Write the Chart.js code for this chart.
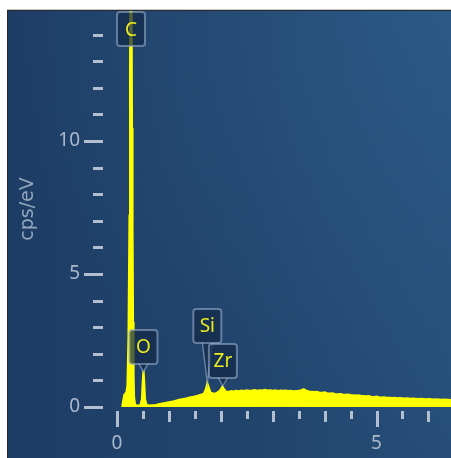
<!DOCTYPE html>
<html>
<head>
<meta charset="utf-8">
<script src="https://cdn.jsdelivr.net/npm/chart.js@4/dist/chart.umd.min.js"></script>
<style>
  html, body { margin: 0; padding: 0; background: #ffffff; width: 451px; height: 458px; overflow: hidden; }
  #wrap {
    position: absolute; left: 7px; top: 10px; width: 443px; height: 447px;
    border-left: 1px solid #2a2a2a; border-top: 1px solid #2a2a2a;
    box-shadow: 0 -1px 0 #c8c8c8;
  }
  #c {
    display: block;
    background:
      radial-gradient(ellipse at 100% 0%, rgba(48,98,145,0.55) 0%, rgba(48,98,145,0) 70%),
      linear-gradient(to right, #1e3d66 0%, #21446d 55%, #264e79 100%);
  }
</style>
</head>
<body>
<div id="wrap"><canvas id="c" width="443" height="447"></canvas></div>
<script>
// ---- data ----
const energies = [
  0.10, 0.12, 0.14, 0.16, 0.18, 0.20, 0.22, 0.24, 0.25, 0.26, 0.27, 0.28, 0.29, 0.30, 0.31, 0.32, 0.33, 0.35,
  0.40, 0.45, 0.48, 0.495, 0.51, 0.525, 0.54, 0.57, 0.62, 0.68,
  0.75, 0.80, 0.85, 0.90, 0.95, 1.00, 1.05, 1.10, 1.15, 1.20, 1.25, 1.30, 1.35, 1.40, 1.45, 1.50, 1.55, 1.60, 1.65,
  1.68, 1.71, 1.74, 1.77, 1.80, 1.84, 1.88, 1.92, 1.96, 2.00, 2.03, 2.06, 2.10, 2.15, 2.20,
  2.25, 2.30, 2.35, 2.40, 2.45, 2.50, 2.55, 2.60, 2.65, 2.70, 2.75, 2.80, 2.85, 2.90, 2.95, 3.00,
  3.05, 3.10, 3.15, 3.20, 3.25, 3.30, 3.35, 3.40, 3.45, 3.50, 3.55, 3.60, 3.65, 3.70, 3.75, 3.80,
  3.85, 3.90, 3.95, 4.00, 4.05, 4.10, 4.15, 4.20, 4.25, 4.30, 4.35, 4.40, 4.45, 4.50, 4.55, 4.60,
  4.65, 4.70, 4.75, 4.80, 4.85, 4.90, 4.95, 5.00, 5.05, 5.10, 5.15, 5.20, 5.25, 5.30, 5.35, 5.40,
  5.45, 5.50, 5.55, 5.60, 5.65, 5.70, 5.75, 5.80, 5.85, 5.90, 5.95, 6.00, 6.05, 6.10, 6.15, 6.20,
  6.25, 6.30, 6.35, 6.40, 6.45
];
const cps = [
  0.00, 0.25, 0.45, 0.50, 0.55, 0.80, 2.6, 7.2, 12.5, 16.5, 17.0, 16.0, 10.5, 6.8, 3.2, 1.2, 0.35, 0.08,
  0.06, 0.07, 0.30, 0.95, 1.40, 0.95, 0.30, 0.08, 0.06, 0.07,
  0.08, 0.10, 0.12, 0.14, 0.16, 0.18, 0.20, 0.22, 0.25, 0.27, 0.29, 0.31, 0.33, 0.36, 0.38, 0.40, 0.42, 0.45, 0.48,
  0.52, 0.66, 0.90, 0.72, 0.55, 0.52, 0.50, 0.53, 0.58, 0.66, 0.77, 0.68, 0.58, 0.57, 0.60,
  0.58, 0.61, 0.59, 0.62, 0.60, 0.63, 0.61, 0.62, 0.64, 0.61, 0.63, 0.62, 0.65, 0.62, 0.63, 0.61,
  0.63, 0.60, 0.62, 0.61, 0.62, 0.60, 0.61, 0.59, 0.60, 0.61, 0.63, 0.67, 0.61, 0.58, 0.57, 0.56,
  0.57, 0.55, 0.54, 0.55, 0.52, 0.51, 0.52, 0.49, 0.48, 0.49, 0.47, 0.46, 0.47, 0.45, 0.44, 0.43,
  0.44, 0.42, 0.41, 0.40, 0.41, 0.39, 0.38, 0.39, 0.37, 0.36, 0.37, 0.35, 0.35, 0.34, 0.35, 0.33,
  0.34, 0.33, 0.32, 0.33, 0.31, 0.32, 0.31, 0.30, 0.31, 0.30, 0.29, 0.30, 0.29, 0.28, 0.29, 0.28,
  0.27, 0.28, 0.27, 0.27, 0.26
];
const peakNames    = ['C', 'O', 'Si', 'Zr'];
const peakEnergies = [0.27, 0.51, 1.74, 2.04];
const peakTips     = [13.57, 1.32, 0.90, 0.79];
const yTicks       = [0, 1, 2, 3, 4, 5, 6, 7, 8, 9, 10, 11, 12, 13, 14];
const yTickLabels  = [0, 5, 10];
const xTicks       = [0, 0.5, 1, 1.5, 2, 2.5, 3, 3.5, 4, 4.5, 5, 5.5, 6];
const xTickLabels  = [0, 5];
const yTitle = 'cps/eV';

// ---- drawing ----
const labelLift = { C: 0, O: 8, Si: 40, Zr: 8 };

const tickPlugin = {
  id: 'edsTicks',
  afterDraw(chart) {
    const { ctx, scales: { x, y }, chartArea } = chart;
    ctx.save();
    ctx.strokeStyle = '#b2bfcf';
    ctx.lineWidth = 3;
    ctx.lineCap = 'butt';
    yTicks.forEach(v => {
      const py = Math.round(y.getPixelForValue(v)) + 0.5;
      const major = yTickLabels.includes(v);
      ctx.beginPath();
      ctx.moveTo(chartArea.left - (major ? 33 : 24), py);
      ctx.lineTo(chartArea.left - 14, py);
      ctx.stroke();
    });
    xTicks.forEach(v => {
      const px = Math.round(x.getPixelForValue(v)) + 0.5;
      let len = 8;
      if (xTickLabels.includes(v)) len = 16;
      else if (Number.isInteger(v)) len = 11;
      ctx.beginPath();
      ctx.moveTo(px, chartArea.bottom + 4);
      ctx.lineTo(px, chartArea.bottom + 4 + len);
      ctx.stroke();
    });
    ctx.restore();
  }
};

const labelPlugin = {
  id: 'peakLabels',
  afterDatasetsDraw(chart) {
    const { ctx, scales: { x, y } } = chart;
    ctx.save();
    peakNames.forEach((name, i) => {
      const tx = x.getPixelForValue(peakEnergies[i]);
      const ty = y.getPixelForValue(peakTips[i]);
      const lift = labelLift[name];
      const w = 28, h = 34;
      const bx = tx - w / 2, by = ty - lift - h;
      const fill = 'rgba(20,42,72,0.72)';
      const stroke = 'rgba(150,172,198,0.6)';
      if (lift > 0) {
        ctx.beginPath();
        ctx.moveTo(tx - 5, ty - lift - 1);
        ctx.lineTo(tx, ty);
        ctx.lineTo(tx + 5, ty - lift - 1);
        ctx.fillStyle = fill;
        ctx.fill();
        ctx.strokeStyle = stroke;
        ctx.lineWidth = 1.5;
        ctx.stroke();
      }
      ctx.beginPath();
      ctx.roundRect(bx, by, w, h, 3);
      ctx.fillStyle = fill;
      ctx.fill();
      ctx.strokeStyle = stroke;
      ctx.lineWidth = 2;
      ctx.stroke();
      ctx.fillStyle = '#ecec1e';
      ctx.font = '19px "Noto Sans"';
      ctx.textAlign = 'center';
      ctx.textBaseline = 'middle';
      ctx.fillText(name, tx, by + h / 2 + 1);
    });
    ctx.restore();
  }
};

const points = energies.map((e, i) => ({ x: e, y: cps[i] }));

new Chart(document.getElementById('c'), {
  type: 'line',
  data: {
    datasets: [{
      data: points,
      borderColor: '#ffff00',
      backgroundColor: '#ffff00',
      borderWidth: 2,
      fill: 'origin',
      pointRadius: 0,
      tension: 0
    }]
  },
  options: {
    responsive: false,
    animation: false,
    devicePixelRatio: 1,
    layout: { padding: 0 },
    plugins: { legend: { display: false }, tooltip: { enabled: false } },
    scales: {
      x: {
        type: 'linear',
        min: 0,
        max: 6.435,
        grid: { display: false, drawTicks: false },
        border: { display: false },
        afterBuildTicks: s => { s.ticks = xTickLabels.map(v => ({ value: v })); },
        afterFit: s => { s.height = 51; s.paddingLeft = 0; s.paddingRight = 0; },
        ticks: {
          color: '#aab8ca',
          font: { family: 'Noto Sans', size: 19 },
          padding: 25,
          maxRotation: 0,
          callback: v => String(v)
        }
      },
      y: {
        type: 'linear',
        min: 0,
        max: 14.89,
        grid: { display: false, drawTicks: false },
        border: { display: false },
        afterBuildTicks: s => { s.ticks = yTickLabels.map(v => ({ value: v })); },
        afterFit: s => { s.width = 109; s.paddingTop = 0; s.paddingBottom = 0; },
        ticks: {
          color: '#aab8ca',
          font: { family: 'Noto Sans', size: 19 },
          padding: 37,
          callback: v => String(v)
        },
        title: {
          display: true,
          text: yTitle,
          color: '#93a6bd',
          font: { family: 'DejaVu Sans', size: 19 },
          padding: { top: 9, bottom: 0 }
        }
      }
    }
  },
  plugins: [tickPlugin, labelPlugin]
});
</script>
</body>
</html>
